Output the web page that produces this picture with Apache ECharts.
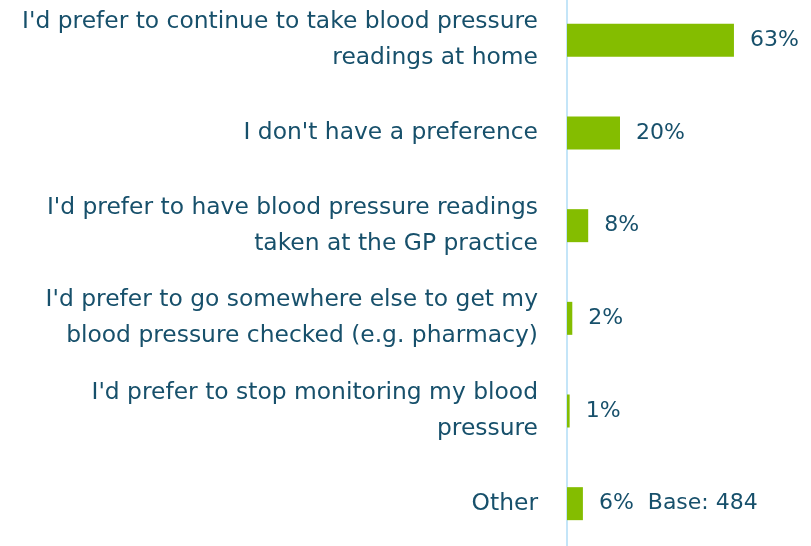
<!doctype html>
<html lang="en">
<head>
    <meta charset="utf-8">
    <title>blood pressure preference</title>
    <script src="https://cdn.jsdelivr.net/npm/echarts@6/dist/echarts.min.js"></script>
    <style>
        html, body { margin: 0; padding: 0; background: #fff; overflow: hidden; }
        /* shifted up a little so the first row sits where the original does */
        #chart { position: absolute; left: 0; top: -6px; width: 811px; height: 556px; }
    </style>
</head>
<body>
<div id="chart"></div>
<script>
var categories = [
    "I'd prefer to continue to take blood pressure\nreadings at home",
    "I don't have a preference",
    "I'd prefer to have blood pressure readings\ntaken at the GP practice",
    "I'd prefer to go somewhere else to get my\nblood pressure checked (e.g. pharmacy)",
    "I'd prefer to stop monitoring my blood\npressure",
    "Other"
];
var values = [63, 20, 8, 2, 1, 6];
var baseNote = 'Base: 484';

var textColor = '#17506b';
var font = 'DejaVu Sans';
var myChart = echarts.init(document.getElementById('chart'));

myChart.setOption({
    animation: false,
    textStyle: { fontFamily: font },
    grid: { left: 567, right: 32, top: 0, bottom: 0, containLabel: false },
    xAxis: {
        type: 'value', min: 0, max: 80, show: false
    },
    yAxis: {
        type: 'category',
        inverse: true,
        data: categories,
        axisLine: { show: true, lineStyle: { color: '#c4e5f8', width: 2 } },
        axisTick: { show: false },
        axisLabel: {
            color: textColor, fontSize: 23.4, lineHeight: 36, margin: 29,
            align: 'right', fontFamily: font
        }
    },
    series: [{
        type: 'bar',
        data: values,
        barWidth: 33,
        itemStyle: { color: '#84bd00' },
        label: {
            show: true, position: 'right', distance: 16,
            color: textColor, fontSize: 22, fontFamily: font,
            formatter: function (p) {
                var s = p.value + '%';
                if (p.dataIndex === categories.length - 1) s += '  ' + baseNote;
                return s;
            }
        }
    }]
});
</script>
</body>
</html>
